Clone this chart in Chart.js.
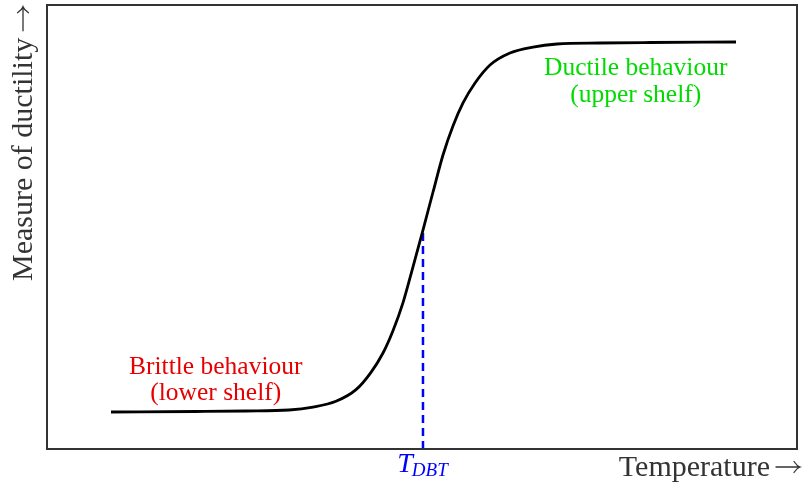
<!DOCTYPE html>
<html>
<head>
<meta charset="utf-8">
<script src="https://cdn.jsdelivr.net/npm/chart.js@4/dist/chart.umd.min.js"></script>
<style>
	html, body { margin: 0; padding: 0; background: #fff; }
	#wrap { width: 803px; height: 484px; }
</style>
</head>
<body>
<div id="wrap"><canvas id="myChart"></canvas></div>
<script>
//temperature values along the curve (arbitrary units, 0-100)
var temperature = [8.53, 19.87, 26.53, 32.27, 35.47, 38.53, 41.2, 43.2, 44.8, 46.13, 47.47, 48.8, 50.13, 51.47, 52.8, 54.13, 55.47, 57.07, 59.07, 61.73, 64.8, 68.0, 73.73, 80.4, 91.87];
//measure of ductility at each temperature
var ductility = [8.33, 8.45, 8.56, 8.78, 9.44, 10.74, 13.36, 17.27, 21.62, 26.64, 32.97, 41.04, 49.32, 57.88, 66.22, 72.75, 77.93, 82.43, 86.49, 89.19, 90.54, 91.22, 91.44, 91.55, 91.67];
//ductile-brittle transition temperature
var tDBT = 50.13;
var tDBTValue = 49.32;
//text labels
var xTitle = "Temperature";
var yTitle = "Measure of ductility";
var brittleLabel = ["Brittle behaviour", "(lower shelf)"];
var ductileLabel = ["Ductile behaviour", "(upper shelf)"];
var brittleAt = [22.5, 18.5, 12.6];
var ductileAt = [78.5, 85.8, 79.7];

var curvePoints = [];
for (var i = 0; i < temperature.length; i++) {
	curvePoints.push({x: temperature[i], y: ductility[i]});
}

var serif = "'Liberation Serif', 'Times New Roman', serif";

//long thin arrow pointing along +x of the current transform
function drawArrow(ctx, x, y, len) {
	ctx.save();
	ctx.lineWidth = 1.3;
	ctx.lineCap = 'round';
	ctx.beginPath();
	ctx.moveTo(x, y);
	ctx.lineTo(x + len, y);
	ctx.moveTo(x + len - 6, y - 5.5);
	ctx.quadraticCurveTo(x + len - 3, y - 1, x + len, y);
	ctx.quadraticCurveTo(x + len - 3, y + 1, x + len - 6, y + 5.5);
	ctx.stroke();
	ctx.restore();
}

//frame, axis titles, annotations and T_DBT label
var extras = {
	id: 'extras',
	afterDraw: function(chart) {
		var ctx = chart.ctx;
		var a = chart.chartArea;
		var xs = chart.scales.x;
		var ys = chart.scales.y;
		ctx.save();
		ctx.strokeStyle = '#333';
		ctx.lineWidth = 2;
		ctx.strokeRect(a.left, a.top, a.right - a.left, a.bottom - a.top);

		//axis titles
		ctx.fillStyle = '#333';
		ctx.strokeStyle = '#333';
		ctx.textBaseline = 'alphabetic';
		ctx.textAlign = 'right';
		ctx.font = '30px ' + serif;
		ctx.fillText(xTitle, 770, a.bottom + 27);
		drawArrow(ctx, 776, a.bottom + 18, 24);

		ctx.save();
		ctx.translate(32, a.bottom - 168);
		ctx.rotate(-Math.PI / 2);
		ctx.textAlign = 'left';
		ctx.font = '30px ' + serif;
		var wY = ctx.measureText(yTitle).width;
		ctx.fillText(yTitle, 0, 0);
		drawArrow(ctx, wY + 7, -9, 24);
		ctx.restore();

		ctx.textAlign = 'center';
		ctx.textBaseline = 'middle';
		ctx.font = '25.5px ' + serif;
		ctx.fillStyle = 'rgb(230,0,0)';
		ctx.fillText(brittleLabel[0], xs.getPixelForValue(brittleAt[0]), ys.getPixelForValue(brittleAt[1]));
		ctx.fillText(brittleLabel[1], xs.getPixelForValue(brittleAt[0]), ys.getPixelForValue(brittleAt[2]));
		ctx.fillStyle = 'rgb(0,220,0)';
		ctx.fillText(ductileLabel[0], xs.getPixelForValue(ductileAt[0]), ys.getPixelForValue(ductileAt[1]));
		ctx.fillText(ductileLabel[1], xs.getPixelForValue(ductileAt[0]), ys.getPixelForValue(ductileAt[2]));

		//T with DBT subscript
		var px = xs.getPixelForValue(tDBT);
		ctx.fillStyle = 'rgb(0,0,255)';
		ctx.textBaseline = 'alphabetic';
		ctx.textAlign = 'left';
		ctx.font = 'italic 28px ' + serif;
		var wT = ctx.measureText('T').width;
		ctx.font = 'italic 19px ' + serif;
		var wS = ctx.measureText('DBT').width;
		var x0 = px - (wT + wS) / 2;
		ctx.font = 'italic 28px ' + serif;
		ctx.fillText('T', x0, a.bottom + 23);
		ctx.font = 'italic 19px ' + serif;
		ctx.fillText('DBT', x0 + wT - 1, a.bottom + 27);
		ctx.restore();
	}
};

var ctx = document.getElementById("myChart").getContext('2d');
var myChart = new Chart(ctx, {
	type: 'line',
	data: {
		datasets: [{
			label: "Ductility",
			data: curvePoints,
			borderColor: '#000',
			borderWidth: 2.8,
			pointRadius: 0,
			cubicInterpolationMode: 'monotone',
			fill: false
		}, {
			label: "T_DBT",
			data: [{x: tDBT, y: 0}, {x: tDBT, y: tDBTValue}],
			borderColor: 'rgb(0,0,255)',
			borderWidth: 2.5,
			borderDash: [8, 5],
			pointRadius: 0,
			fill: false
		}]
	},
	options: {
		responsive: true,
		maintainAspectRatio: false,
		animation: false,
		layout: {
			padding: {top: 5, right: 6, left: 47, bottom: 35}
		},
		plugins: {
			legend: {display: false},
			tooltip: {enabled: false}
		},
		scales: {
			x: {
				type: 'linear',
				min: 0,
				max: 100,
				grid: {display: false, drawTicks: false},
				border: {display: false},
				ticks: {display: false}
			},
			y: {
				type: 'linear',
				min: 0,
				max: 100,
				grid: {display: false, drawTicks: false},
				border: {display: false},
				ticks: {display: false}
			}
		}
	},
	plugins: [extras]
});
</script>
</body>
</html>
